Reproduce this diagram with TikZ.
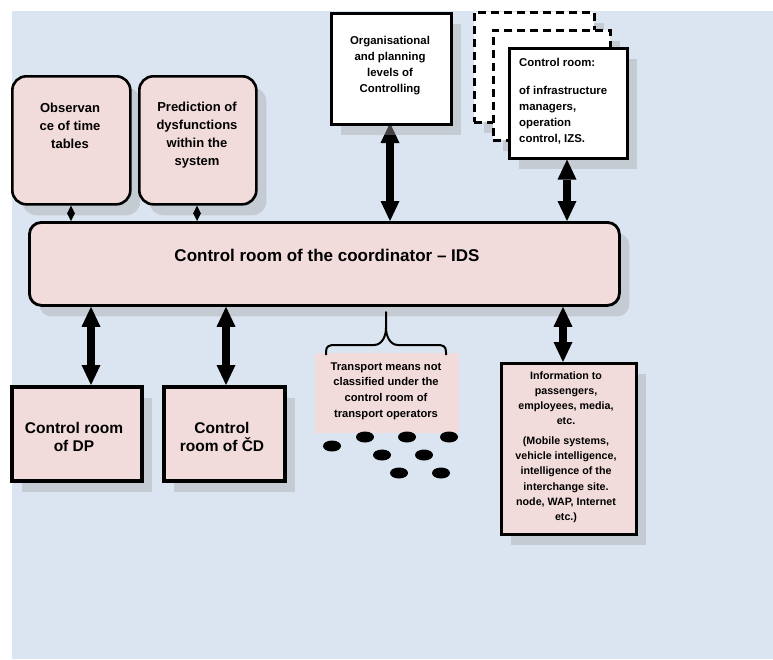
\documentclass[tikz,border=0pt]{standalone}
\usepackage{fontspec}
\setmainfont{Liberation Sans}
\usetikzlibrary{arrows.meta,shadows}
\definecolor{bgblue}{RGB}{219,229,241}
\definecolor{pinkfill}{RGB}{242,220,219}
\tikzset{
  shd/.style={drop shadow={shadow xshift=10pt, shadow yshift=-11pt, fill=gray!70, opacity=0.4}},
  boxbase/.style={draw=black, line width=2.6pt, anchor=north west, inner sep=0pt, shd},
  pinkbox/.style={boxbase, fill=pinkfill},
  whitebox/.style={boxbase, fill=white},
  dashbox/.style={whitebox, dash pattern=on 8pt off 5pt},
  txt/.style={align=center, inner sep=0pt},
  bigarrow/.style={line width=8pt, {Triangle[length=20pt,width=19pt,line width=0pt]}-{Triangle[length=20pt,width=19pt,line width=0pt]}},
  smallarrow/.style={line width=1pt, {Triangle[length=8pt,width=8pt,line width=0pt]}-{Triangle[length=8pt,width=8pt,line width=0pt]}},
  dot/.style={fill=black}
}
\begin{document}
\begin{tikzpicture}[x=1pt,y=-1pt]
\useasboundingbox (0,0) rectangle (773,659);
\fill[bgblue] (12,11) rectangle (773,659);

% organisational arrow (lies under the shadow of its box)
\coordinate (orgx) at (390,0);
\coordinate (ctrlx) at (567,0);
\coordinate (dpx) at (91,0);
\coordinate (cdx) at (226,0);
\coordinate (infx) at (563,0);
\coordinate (obsx) at (71,0);
\coordinate (predx) at (197,0);

% boxes
\node[pinkbox, rounded corners=14pt, minimum width=118pt, minimum height=128pt] (obs) at (11,75) {};
\node[pinkbox, rounded corners=14pt, minimum width=117pt, minimum height=128pt] (pred) at (138,75) {};
\node[pinkbox, rounded corners=12pt, line width=2.8pt, minimum width=590pt, minimum height=83pt] (main) at (28,221) {};

\draw[bigarrow] (main.north -| orgx) ++(0,0) coordinate (orgbot) -- (orgbot |- 0,123) coordinate (orgtop);
\node[whitebox, minimum width=120pt, minimum height=111pt] (org) at (330,12) {};

\node[dashbox, minimum width=120pt, minimum height=110pt] (dash1) at (473,11) {};
\node[dashbox, minimum width=117pt, minimum height=110pt] (dash2) at (492,29) {};
\node[whitebox, minimum width=118pt, minimum height=110pt] (ctrl) at (508,47) {};

\node[pinkbox, line width=3.6pt, minimum width=130pt, minimum height=94pt] (dp) at (10,385) {};
\node[pinkbox, line width=3.6pt, minimum width=121pt, minimum height=94pt] (cd) at (162,385) {};
\node[fill=pinkfill, anchor=north west, inner sep=0pt, minimum width=144pt, minimum height=80pt] (trans) at (315,353) {};
\node[pinkbox, minimum width=135pt, minimum height=171pt] (info) at (500,362) {};

% texts
\node[txt, font=\fontsize{13}{18}\selectfont\bfseries] (obs-t) at (70,126) {Observan\\ce of time\\tables};
\node[txt, font=\fontsize{13}{18}\selectfont\bfseries] (pred-t) at (197,135) {Prediction of\\dysfunctions\\within the\\system};
\node[txt, font=\fontsize{11.4}{16}\selectfont\bfseries] (org-t) at (390,66) {Organisational\\and planning\\levels of\\Controlling};
\node[txt, align=left, anchor=west, font=\fontsize{11.4}{16}\selectfont\bfseries] (ctrl-t) at (519,101) {Control room:\\[12pt]of infrastructure\\managers,\\operation\\control, IZS.};
\node[txt, font=\fontsize{17}{20}\selectfont\bfseries] (main-t) at (327,255) {Control room of the coordinator -- IDS};
\node[txt, font=\fontsize{15.5}{18}\selectfont\bfseries] (dp-t) at (74,437) {Control room\\of DP};
\node[txt, font=\fontsize{15.5}{18}\selectfont\bfseries] (cd-t) at (222,437) {Control\\room of ČD};
\node[txt, font=\fontsize{11.2}{15.7}\selectfont\bfseries] (trans-t) at (386,391) {Transport means not\\classified under the\\control room of\\transport operators};
\node[txt, font=\fontsize{10.7}{15.1}\selectfont\bfseries] (info-t) at (566,447) {Information to\\passengers,\\employees, media,\\etc.\\[5pt](Mobile systems,\\vehicle intelligence,\\intelligence of the\\interchange site.\\node, WAP, Internet\\etc.)};

% connectors
\draw[smallarrow] (obs.south -| obsx) -- (main.north -| obsx);
\draw[smallarrow] (pred.south -| predx) -- (main.north -| predx);
\draw[bigarrow] (ctrl.south -| ctrlx) -- (main.north -| ctrlx);
\draw[bigarrow] (main.south -| dpx) -- (dp.north -| dpx);
\draw[bigarrow] (main.south -| cdx) -- (cd.north -| cdx);
\draw[bigarrow] (main.south -| infx) -- (info.north -| infx);

% brace
\coordinate (btip) at (386,312);
\draw[line width=2pt, line join=round] (326,355) -- (326,352) .. controls (326,346) and (329,345) .. (335,345)
  -- (374,345) .. controls (382,345) and (386,336) .. (386,328) -- (btip)
  -- (386,328) .. controls (386,336) and (390,345) .. (398,345)
  -- (437,345) .. controls (443,345) and (446,346) .. (446,352) -- (446,355);

% dots
\fill[dot] (332,446) ellipse [x radius=9pt, y radius=5.5pt];
\fill[dot] (365,437) ellipse [x radius=9pt, y radius=5.5pt];
\fill[dot] (407,437) ellipse [x radius=9pt, y radius=5.5pt];
\fill[dot] (449,437) ellipse [x radius=9pt, y radius=5.5pt];
\fill[dot] (382,455) ellipse [x radius=9pt, y radius=5.5pt];
\fill[dot] (424,455) ellipse [x radius=9pt, y radius=5.5pt];
\fill[dot] (399,473) ellipse [x radius=9pt, y radius=5.5pt];
\fill[dot] (441,473) ellipse [x radius=9pt, y radius=5.5pt];
\end{tikzpicture}
\end{document}
